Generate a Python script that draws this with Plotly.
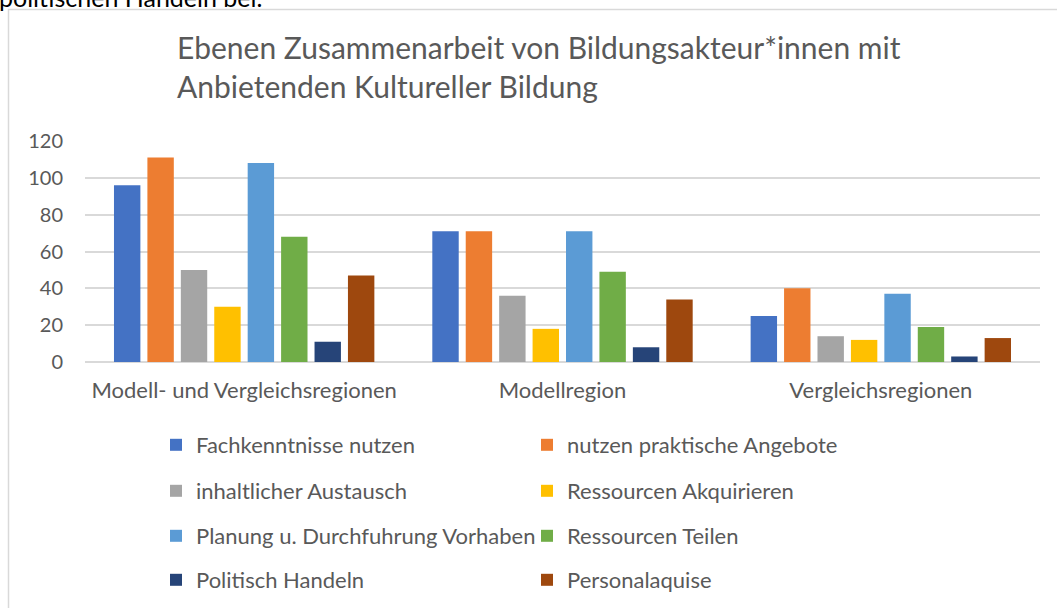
import plotly.graph_objects as go

categories = ["Modell- und Vergleichsregionen", "Modellregion", "Vergleichsregionen"]
series_names = [
    "Fachkenntnisse nutzen",
    "nutzen praktische Angebote",
    "inhaltlicher Austausch",
    "Ressourcen Akquirieren",
    "Planung u. Durchfuhrung Vorhaben",
    "Ressourcen Teilen",
    "Politisch Handeln",
    "Personalaquise",
]
fachkenntnisse = [96, 71, 25]
praktische_angebote = [111, 71, 40]
inhaltlicher_austausch = [50, 36, 14]
ressourcen_akquirieren = [30, 18, 12]
planung_vorhaben = [108, 71, 37]
ressourcen_teilen = [68, 49, 19]
politisch_handeln = [11, 8, 3]
personalaquise = [47, 34, 13]
values = [fachkenntnisse, praktische_angebote, inhaltlicher_austausch, ressourcen_akquirieren,
          planung_vorhaben, ressourcen_teilen, politisch_handeln, personalaquise]
colors = ["#4472C4", "#ED7D31", "#A5A5A5", "#FFC000", "#5B9BD5", "#70AD47", "#264478", "#9E480E"]
y_ticks = [0, 20, 40, 60, 80, 100, 120]

W, H = 1057, 608
L, R, T, B = 85, 17, 141, 246
PW, PH = W - L - R, H - T - B

def px_x(p):
    return (p - L) / PW

def px_y(p):
    return (H - B - p) / PH

FONT = "Lato"
GRAY = "#595959"

fig = go.Figure()
legend_ids = ["legend", "legend", "legend2", "legend2", "legend3", "legend3", "legend4", "legend4"]
for name, vals, col, lg in zip(series_names, values, colors, legend_ids):
    fig.add_trace(go.Bar(x=categories, y=vals, name=name, marker=dict(color=col, line=dict(width=0)),
                         legend=lg))

row_pix = [445, 491, 536, 580]
leg_common = dict(orientation="h", entrywidth=326, entrywidthmode="pixels",
                  font=dict(family=FONT, size=22, color=GRAY), bgcolor="rgba(0,0,0,0)",
                  xanchor="left", yanchor="middle", x=px_x(156), itemclick=False)
layout_legends = {}
for i, rp in enumerate(row_pix):
    key = "legend" if i == 0 else f"legend{i+1}"
    layout_legends[key] = dict(leg_common, y=px_y(rp))

fig.update_layout(
    width=W, height=H,
    margin=dict(l=L, r=R, t=T, b=B, autoexpand=False),
    paper_bgcolor="white", plot_bgcolor="white",
    barmode="group", bargap=0.16, bargroupgap=0.21,
    showlegend=True,
    font=dict(family=FONT, color=GRAY),
    xaxis=dict(showgrid=False, showline=False, ticks="", tickfont=dict(size=22, color=GRAY),
               ticklabelstandoff=13, automargin=False),
    yaxis=dict(range=[0, 120], tickvals=y_ticks, showgrid=True, gridcolor="#D9D9D9", gridwidth=1.5,
               zeroline=True, zerolinecolor="#D9D9D9", zerolinewidth=1.5, showline=False,
               tickfont=dict(size=20, color=GRAY), ticks="", ticklabelstandoff=21, automargin=False),
    **layout_legends,
)

fig.add_annotation(
    text="Ebenen Zusammenarbeit von Bildungsakteur*innen mit<br>Anbietenden Kultureller Bildung",
    xref="paper", yref="paper", x=px_x(175), y=px_y(27), xanchor="left", yanchor="top",
    align="left", showarrow=False, font=dict(family=FONT, size=30, color=GRAY))

fig.add_annotation(
    text="politischen Handeln bei.", xref="paper", yref="paper", x=px_x(-3), y=px_y(14),
    xanchor="left", yanchor="bottom", showarrow=False, font=dict(family=FONT, size=25, color="black"))

fig.add_shape(type="rect", xref="paper", yref="paper",
              x0=px_x(8.5), x1=px_x(1065), y0=px_y(620), y1=px_y(9.5),
              line=dict(color="#D9D9D9", width=1.5), fillcolor="rgba(0,0,0,0)", layer="below")

fig.write_html("out.html", config={"displayModeBar": False},
               post_script="document.body.style.margin='0';document.body.style.overflow='hidden';")
